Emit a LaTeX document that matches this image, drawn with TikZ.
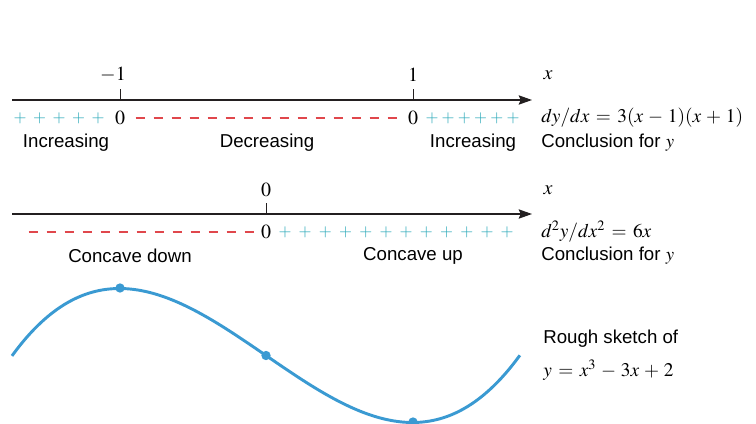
\documentclass[tikz,border=0pt]{standalone}
\usepackage{mathptmx}
\usepackage{fontspec}
\setmainfont{Liberation Serif}
\setsansfont{Liberation Sans}
\usetikzlibrary{positioning, arrows.meta}
\definecolor{plusteal}{HTML}{2AA8B8}
\definecolor{minusred}{HTML}{E0474C}
\definecolor{sketchblue}{HTML}{3A9AD2}
\definecolor{axisgrey}{HTML}{231F20}
\medmuskip=4.5mu plus 2mu minus 4mu
\thickmuskip=6mu plus 5mu

\tikzset{
  axisline/.style={draw=axisgrey, line width=1pt, -{Stealth[length=10pt,width=7pt,inset=1.5pt]}},
  tickline/.style={draw=axisgrey, line width=0.6pt},
  signplus/.style={text=plusteal, inner sep=0pt, font=\fontsize{12.5}{14}\selectfont},
  signzero/.style={inner sep=0pt, font=\fontsize{15}{17}\selectfont},
  signdash/.style={draw=minusred, line width=1.3pt},
  wordlabel/.style={font=\sffamily\fontsize{14}{16}\selectfont, inner sep=0pt},
  sidemath/.style={anchor=west, inner sep=0pt, font=\fontsize{14.5}{17}\selectfont},
  sidetext/.style={anchor=west, inner sep=0pt, font=\sffamily\fontsize{14}{16}\selectfont},
  sketchdot/.style={circle, fill=sketchblue, inner sep=0pt, minimum size=7pt},
}

\begin{document}
\begin{tikzpicture}[x=0.75pt, y=-0.75pt, font=\fontsize{15}{17}\selectfont]
  \useasboundingbox (0,0) rectangle (756,424);

  % first derivative line
  \coordinate (a1start) at (12,100);
  \coordinate (a1end) at (532,100);
  \draw[axisline] (a1start) -- (a1end);
  \coordinate (t1) at (120,100);
  \coordinate (t2) at (413,100);
  \draw[tickline] (t1) -- ++(0,-11);
  \draw[tickline] (t2) -- ++(0,-11);
  \node[inner sep=0pt] (l1) at (113,75) {$-1$};
  \node[inner sep=0pt] (l2) at (413,75) {$1$};
  \node[inner sep=0pt] (x1) at (548,75) {$x$};

  \foreach \px in {20,39.5,59,78.5,98}
    \node[signplus] at (\px,118) {$+$};
  \node[signzero] (z1) at (120,118) {$0$};
  \foreach \px in {140,158,...,392}
    \draw[signdash] (\px-4.5,118) -- (\px+4.5,118);
  \node[signzero] (z2) at (413,118) {$0$};
  \foreach \px in {432,448.2,...,514}
    \node[signplus] at (\px,118) {$+$};
  \node[sidemath] (d1) at (541,118) {$dy/dx = 3(x-1)(x+1)$};

  \node[wordlabel] (w1) at (66,143) {Increasing};
  \node[wordlabel] (w2) at (267,143) {Decreasing};
  \node[wordlabel] (w3) at (473,143) {Increasing};
  \node[sidetext] (c1) at (541,143) {Conclusion for $y$};

  % second derivative line
  \coordinate (a2start) at (12,214);
  \coordinate (a2end) at (532,214);
  \draw[axisline] (a2start) -- (a2end);
  \coordinate (t3) at (266,214);
  \draw[tickline] (t3) -- ++(0,-11);
  \node[inner sep=0pt] (l3) at (266,190) {$0$};
  \node[inner sep=0pt] (x2) at (548,190) {$x$};

  \foreach \px in {33,51,...,250}
    \draw[signdash] (\px-4.5,232) -- (\px+4.5,232);
  \node[signzero] (z3) at (266,232) {$0$};
  \foreach \px in {285,305.2,...,508}
    \node[signplus] at (\px,232) {$+$};
  \node[sidemath] (d2) at (541,232) {$d^2y/dx^2 = 6x$};

  \node[wordlabel] (w4) at (130,256) {Concave down};
  \node[wordlabel] (w5) at (413,256) {Concave up};
  \node[sidetext] (c2) at (541,256) {Conclusion for $y$};

  % rough sketch
  \draw[sketchblue, line width=2.2pt]
    plot[domain=-1.734:1.734, samples=80, smooth] ({266+146.5*\x}, {355.5+33.5*(3*\x-\x*\x*\x)});
  \node[sketchdot] (pmax) at (120,288) {};
  \node[sketchdot] (pinf) at (266,355.5) {};
  \node[sketchdot] (pmin) at (413,422) {};
  \node[sidetext] (r1) at (543,339) {Rough sketch of};
  \node[sidemath] (r2) at (543,370) {$y = x^3 - 3x + 2$};
\end{tikzpicture}
\end{document}
